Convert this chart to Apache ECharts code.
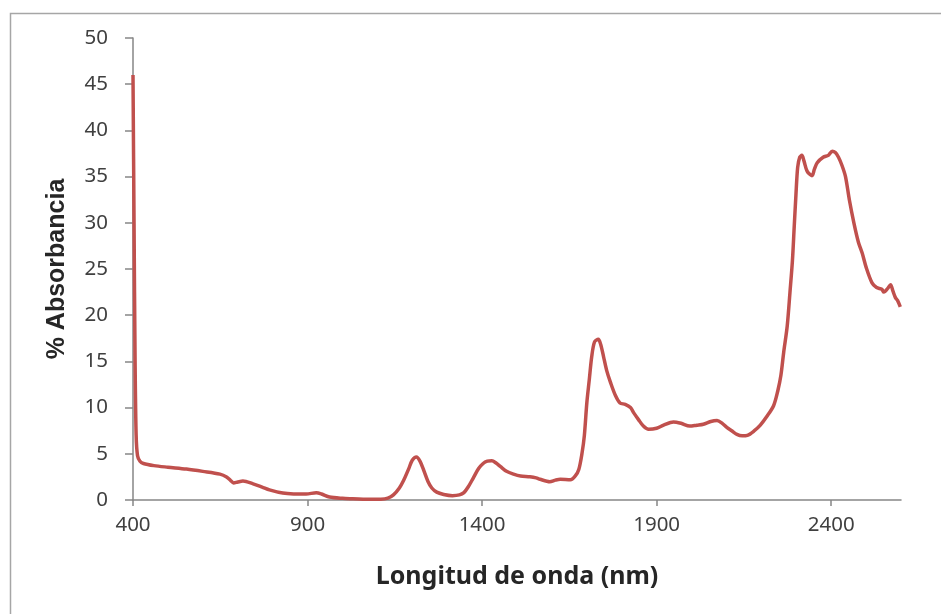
<!DOCTYPE html>
<html>
<head>
<meta charset="utf-8">
<script src="https://cdn.jsdelivr.net/npm/echarts@6/dist/echarts.min.js"></script>
<style>html,body{margin:0;padding:0;background:#fff}#c{width:941px;height:614px}</style>
</head>
<body>
<div id="c"></div>
<script>
var wavelengths = [400,403,406,409,413,420,430,460,500,553,600,649,668,680,688,700,715,744,770,791,829,860,896,925,940,963,1000,1029,1087,1110,1130,1146,1163,1175,1190,1200,1212,1222,1232,1245,1256,1270,1290,1315,1335,1348,1360,1375,1390,1403,1415,1428,1440,1453,1470,1490,1510,1537,1555,1566,1594,1610,1624,1653,1667,1677,1686,1693,1700,1707,1714,1722,1733,1740,1748,1757,1768,1782,1795,1810,1825,1835,1848,1862,1877,1900,1920,1948,1970,1995,2015,2034,2055,2073,2088,2101,2115,2130,2145,2160,2180,2197,2215,2235,2247,2256,2264,2274,2282,2289,2294,2299,2304,2310,2316,2322,2331,2345,2352,2360,2377,2392,2403,2412,2421,2431,2441,2452,2465,2478,2489,2500,2517,2530,2545,2551,2562,2570,2577,2584,2590,2598];
var absorbance = [46.0,30,15,7,4.8,4.2,3.95,3.72,3.55,3.35,3.1,2.8,2.5,2.1,1.85,1.95,2.05,1.75,1.4,1.1,0.75,0.66,0.65,0.78,0.65,0.32,0.18,0.14,0.07,0.08,0.2,0.55,1.3,2.1,3.4,4.3,4.65,4.2,3.3,2.0,1.3,0.85,0.6,0.47,0.55,0.8,1.4,2.4,3.4,3.95,4.2,4.25,4.0,3.6,3.1,2.8,2.6,2.52,2.4,2.24,1.98,2.15,2.24,2.18,2.6,3.3,5.0,7.0,10.5,13.0,15.5,17.1,17.4,16.8,15.5,14.0,12.7,11.3,10.5,10.35,10.0,9.4,8.7,8.0,7.65,7.76,8.1,8.45,8.3,8.0,8.1,8.2,8.5,8.6,8.3,7.85,7.5,7.1,6.95,7.0,7.5,8.1,9.0,10.2,11.8,13.5,16.0,18.8,22.5,25.9,29.5,33.0,36.0,37.1,37.3,36.7,35.6,35.1,35.8,36.5,37.1,37.3,37.75,37.6,37.1,36.2,35.0,32.5,30.0,27.9,26.7,25.2,23.5,23.0,22.8,22.5,22.9,23.3,22.6,21.9,21.6,20.9];
var xTickLabels = [400, 900, 1400, 1900, 2400];
var yTickLabels = [0, 5, 10, 15, 20, 25, 30, 35, 40, 45, 50];

var pts = wavelengths.map(function (w, i) { return [w, absorbance[i]]; });
var chart = echarts.init(document.getElementById('c'), null, {renderer: 'canvas'});
var axisCol = '#868686';
var font = 'Noto Sans';
chart.setOption({
  animation: false,
  graphic: [{
    type: 'rect', left: 8, top: 11,
    shape: {x: 0, y: 0, width: 1000, height: 1000},
    style: {fill: 'none', stroke: '#a6a6a6', lineWidth: 1.5}
  }],
  grid: {left: 133, right: 40, top: 38, bottom: 114, containLabel: false},
  xAxis: {
    type: 'value', min: 400, max: 2600, interval: 500,
    axisLine: {lineStyle: {color: axisCol, width: 1.5}},
    axisTick: {show: true, length: 6, lineStyle: {color: axisCol, width: 1.5}},
    splitLine: {show: false},
    axisLabel: {
      showMaxLabel: false, margin: 15, color: '#404040', fontFamily: font, fontSize: 20.5,
      formatter: function (v) { return xTickLabels.indexOf(v) >= 0 ? String(v) : ''; }
    },
    name: 'Longitud de onda (nm)', nameLocation: 'middle', nameGap: 64,
    nameTextStyle: {color: '#262626', fontFamily: font, fontSize: 25, fontWeight: 'bold'}
  },
  yAxis: {
    type: 'value', min: 0, max: 50, interval: 5,
    axisLine: {show: true, lineStyle: {color: axisCol, width: 1.5}},
    axisTick: {show: true, length: 8, lineStyle: {color: axisCol, width: 1.5}},
    splitLine: {show: false},
    axisLabel: {
      margin: 25, color: '#404040', fontFamily: font, fontSize: 20.5,
      formatter: function (v) { return yTickLabels.indexOf(v) >= 0 ? String(v) : ''; }
    },
    name: '% Absorbancia', nameLocation: 'middle', nameGap: 63, nameRotate: 90,
    nameTextStyle: {color: '#262626', fontFamily: 'Liberation Sans', fontSize: 25, fontWeight: 'bold'}
  },
  series: [{
    type: 'line', data: pts, showSymbol: false, smooth: 0.3,
    lineStyle: {color: '#C0504D', width: 3.5}, clip: true
  }]
});
</script>
</body>
</html>
